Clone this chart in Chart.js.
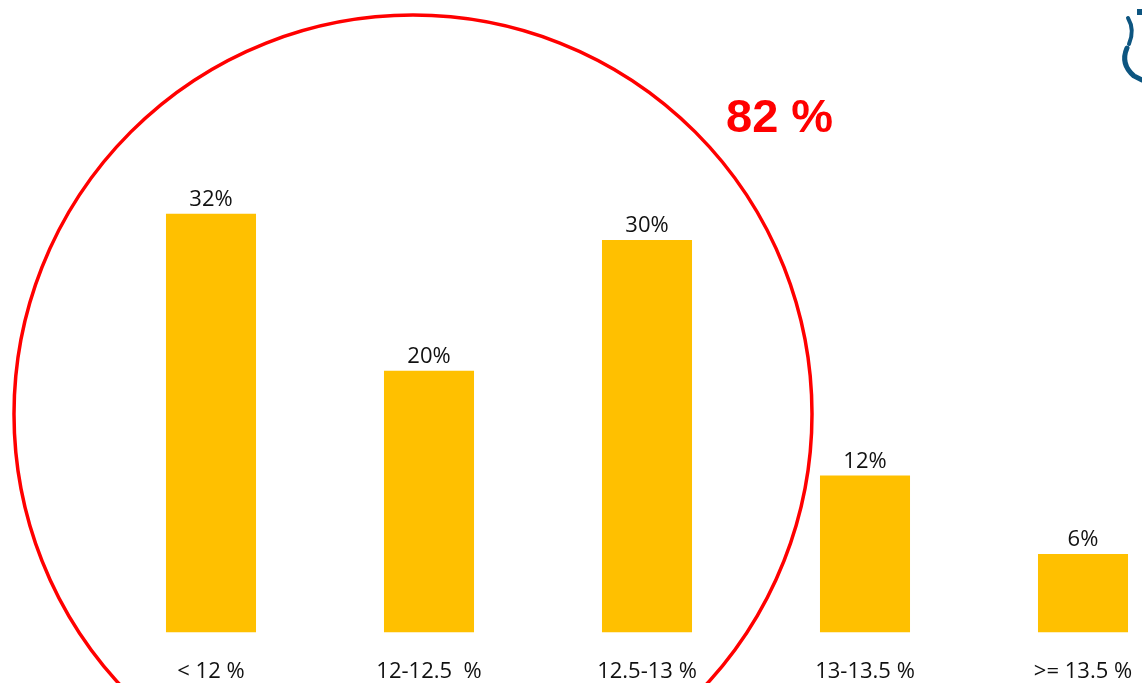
<!DOCTYPE html>
<html lang="en-US">
<head>
  <meta charset="utf-8">
  <title>Distribution by rate band</title>
  <script src="https://cdn.jsdelivr.net/npm/chart.js@4.4.1/dist/chart.umd.min.js"></script>
  <style>
    html, body { margin: 0; padding: 0; background: #fff; overflow: hidden; }
    #holder { width: 1142px; height: 683px; overflow: hidden; }
    canvas { display: block; }
  </style>
</head>
<body>
  <div id="holder">
    <canvas id="chart" width="1200" height="711"></canvas>
  </div>
  <script>
    const bands = ['< 12 %', '12-12.5  %', '12.5-13 %', '13-13.5 %', '>= 13.5 %'];
    const shares = [32, 20, 30, 12, 6];
    const highlightText = '82 %';

    const labelFont = '"Open Sans", Lato, sans-serif';

    // value labels above each bar
    const barLabels = {
      id: 'barLabels',
      afterDatasetsDraw(chart) {
        const { ctx } = chart;
        const meta = chart.getDatasetMeta(0);
        ctx.save();
        ctx.font = '22px ' + labelFont;
        ctx.fillStyle = '#111';
        ctx.textAlign = 'center';
        ctx.textBaseline = 'alphabetic';
        meta.data.forEach((bar, i) => {
          ctx.fillText(shares[i] + '%', bar.x, bar.y - 8);
        });
        ctx.restore();
      }
    };

    // red ring round the first three bands, its total, and the corner logo
    const overlay = {
      id: 'overlay',
      afterDraw(chart) {
        const { ctx } = chart;
        ctx.save();
        ctx.strokeStyle = '#ff0000';
        ctx.lineWidth = 3.5;
        ctx.beginPath();
        ctx.arc(413, 414, 399, 0, Math.PI * 2);
        ctx.stroke();

        ctx.fillStyle = '#ff0000';
        ctx.font = 'bold 47px "Liberation Sans", Arial, sans-serif';
        ctx.textAlign = 'left';
        ctx.textBaseline = 'alphabetic';
        ctx.fillText(highlightText, 726, 132);

        // logo fragment
        ctx.strokeStyle = '#0d5580';
        ctx.fillStyle = '#0d5580';
        ctx.lineCap = 'round';
        ctx.fillRect(1137, 9, 6, 6);
        ctx.lineWidth = 4;
        ctx.beginPath();
        ctx.moveTo(1128, 18);
        ctx.quadraticCurveTo(1135, 30, 1129, 44);
        ctx.stroke();
        ctx.lineWidth = 5;
        ctx.beginPath();
        ctx.moveTo(1127, 48);
        ctx.quadraticCurveTo(1120, 64, 1134, 76);
        ctx.lineTo(1142, 80);
        ctx.stroke();
        ctx.restore();
      }
    };

    new Chart(document.getElementById('chart'), {
      type: 'bar',
      data: {
        labels: bands,
        datasets: [{
          data: shares,
          backgroundColor: '#ffc000',
          borderWidth: 0,
          categoryPercentage: 1,
          barPercentage: 0.413
        }]
      },
      options: {
        responsive: false,
        animation: false,
        layout: { padding: { left: 102, right: 8, top: 109, bottom: 0 } },
        plugins: { legend: { display: false }, tooltip: { enabled: false } },
        scales: {
          x: {
            grid: { display: false, drawTicks: false, tickLength: 0 },
            border: { display: false },
            ticks: {
              padding: 26,
              color: '#111',
              maxRotation: 0,
              font: { family: labelFont, size: 22, lineHeight: 1.2 }
            }
          },
          y: {
            display: false,
            min: 0,
            max: 40
          }
        }
      },
      plugins: [barLabels, overlay]
    });
  </script>
</body>
</html>
